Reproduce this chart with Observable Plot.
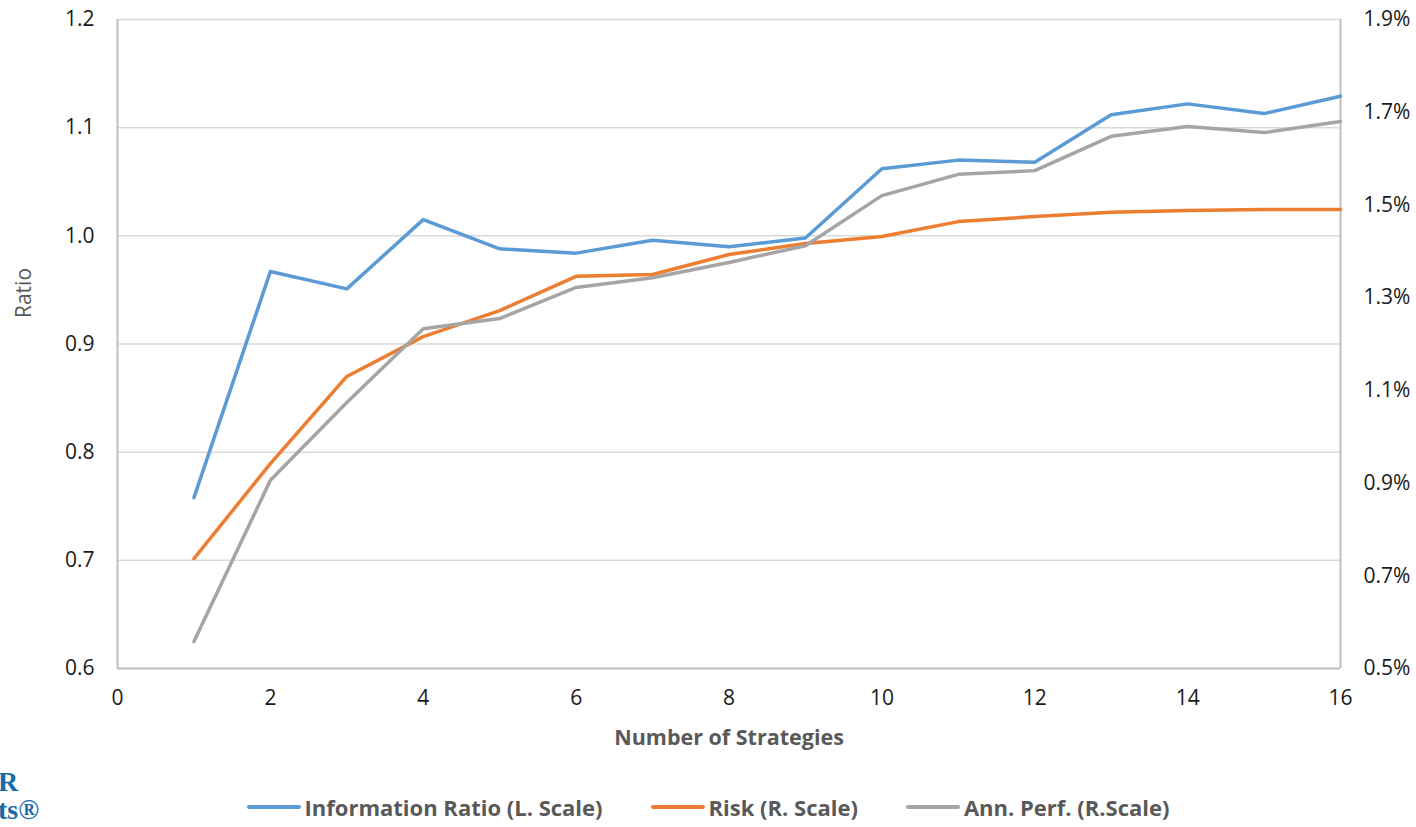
<!DOCTYPE html>
<html>
<head>
<meta charset="utf-8">
<script src="https://cdn.jsdelivr.net/npm/d3@7"></script>
<script src="https://cdn.jsdelivr.net/npm/@observablehq/plot@0.6"></script>
<style>
  html, body { margin: 0; padding: 0; background: #fff; }
  body { width: 1416px; height: 827px; position: relative; overflow: hidden; font-family: "Open Sans", sans-serif; }
  #legend { position: absolute; top: 793px; left: 0; width: 1416px; display: flex; justify-content: center; align-items: center; font-weight: bold; font-size: 22px; color: #595959; line-height: 28px; }
  .item { display: flex; align-items: center; margin: 0 24px; }
  .sw { width: 54px; height: 4px; margin-right: 4px; border-radius: 2px; }
  #logo { position: absolute; left: -2px; top: 768px; color: #1b6aa8; font-family: "Liberation Serif", serif; font-size: 28px; line-height: 28px; font-weight: bold; }
</style>
</head>
<body>
<div id="chart"></div>
<div id="legend"></div>
<div id="logo">R<br>ts®</div>
<script>
const strategies = [1, 2, 3, 4, 5, 6, 7, 8, 9, 10, 11, 12, 13, 14, 15, 16];
const infoRatio = [0.758, 0.967, 0.951, 1.015, 0.988, 0.984, 0.996, 0.990, 0.998, 1.062, 1.070, 1.068, 1.112, 1.122, 1.113, 1.129];
const riskPct = [0.737, 0.942, 1.130, 1.216, 1.272, 1.346, 1.350, 1.393, 1.417, 1.432, 1.464, 1.475, 1.484, 1.488, 1.490, 1.490];
const annPerfPct = [0.558, 0.906, 1.074, 1.233, 1.255, 1.322, 1.343, 1.376, 1.412, 1.520, 1.566, 1.574, 1.648, 1.669, 1.656, 1.680];
const seriesNames = ["Information Ratio (L. Scale)", "Risk (R. Scale)", "Ann. Perf. (R.Scale)"];
const seriesColors = ["#5B9BD5", "#ED7D31", "#A5A5A5"];
const leftTicks = [0.6, 0.7, 0.8, 0.9, 1.0, 1.1, 1.2];
const rightTicks = [0.5, 0.7, 0.9, 1.1, 1.3, 1.5, 1.7, 1.9];
const xTicks = [0, 2, 4, 6, 8, 10, 12, 14, 16];

// right scale (percent) mapped onto the left scale
const L0 = 0.6, L1 = 1.2, R0 = 0.5, R1 = 1.9;
const toLeft = r => L0 + (r - R0) * (L1 - L0) / (R1 - R0);
const toRight = l => R0 + (l - L0) * (R1 - R0) / (L1 - L0);

const rows = [];
strategies.forEach((s, i) => {
  rows.push({s, v: infoRatio[i], series: seriesNames[0]});
  rows.push({s, v: toLeft(riskPct[i]), series: seriesNames[1]});
  rows.push({s, v: toLeft(annPerfPct[i]), series: seriesNames[2]});
});

const tickColor = "#1a1a1a";
const chart = Plot.plot({
  width: 1416,
  height: 760,
  marginLeft: 117,
  marginRight: 76,
  marginTop: 19,
  marginBottom: 92,
  style: {fontFamily: "Open Sans, sans-serif", fontSize: "21px", background: "#fff"},
  x: {domain: [0, 16]},
  y: {domain: [L0, L1]},
  color: {domain: seriesNames, range: seriesColors},
  marks: [
    Plot.gridY(leftTicks, {stroke: "#d9d9d9", strokeOpacity: 1, strokeWidth: 1.5}),
    Plot.ruleY([L0], {stroke: "#bfbfbf", strokeWidth: 2}),
    Plot.ruleX([0, 16], {y1: L0, y2: L1, stroke: "#bfbfbf", strokeWidth: 2}),
    Plot.line(rows, {x: "s", y: "v", z: "series", stroke: "series", strokeWidth: 3.5, strokeLinecap: "round", strokeLinejoin: "round"}),
    Plot.axisY(leftTicks, {anchor: "left", tickSize: 0, tickPadding: 23, tickFormat: d => d.toFixed(1), label: null, fill: tickColor, fontSize: 21}),
    Plot.axisY(rightTicks.map(toLeft), {anchor: "right", tickSize: 0, tickPadding: 23, tickFormat: d => toRight(d).toFixed(1) + "%", label: null, fill: tickColor, fontSize: 21}),
    Plot.axisX(xTicks, {tickSize: 0, tickPadding: 22, label: null, fill: tickColor, fontSize: 21}),
    Plot.text(["Ratio"], {frameAnchor: "left", dx: -93, dy: -51, rotate: -90, textAnchor: "middle", lineAnchor: "middle", fill: "#595959", fontSize: 21}),
    Plot.text(["Number of Strategies"], {frameAnchor: "bottom", dy: 70, textAnchor: "middle", lineAnchor: "middle", fill: "#595959", fontSize: 21.5, fontWeight: "bold"})
  ]
});
document.getElementById("chart").appendChild(chart);

const legend = document.getElementById("legend");
seriesNames.forEach((n, i) => {
  const item = document.createElement("div");
  item.className = "item";
  const sw = document.createElement("div");
  sw.className = "sw";
  sw.style.background = seriesColors[i];
  const t = document.createElement("span");
  t.textContent = n;
  item.appendChild(sw);
  item.appendChild(t);
  legend.appendChild(item);
});
</script>
</body>
</html>
